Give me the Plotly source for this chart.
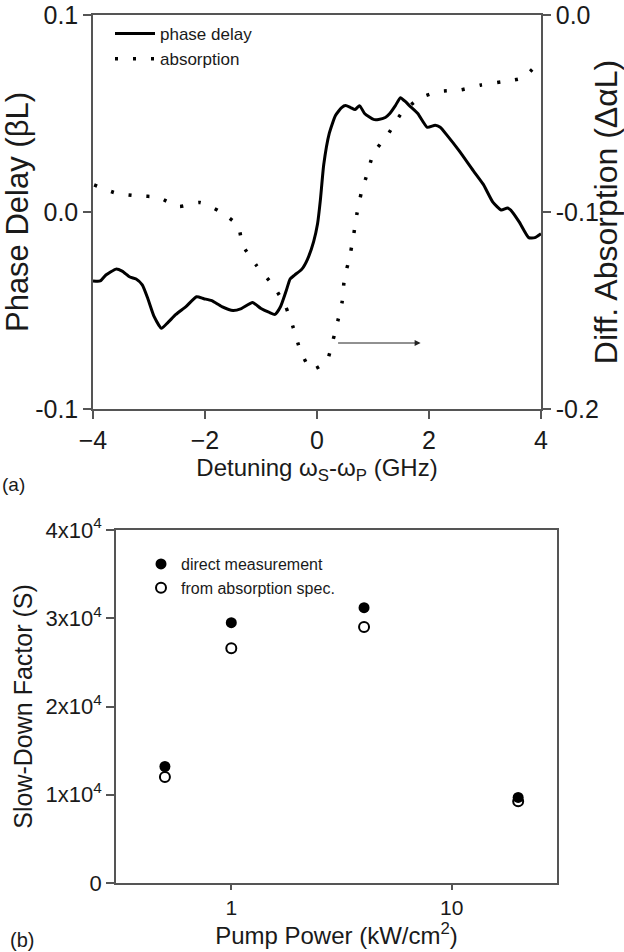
import plotly.graph_objects as go
import numpy as np

# ---------------- data: panel (a) ----------------
detuning_pd = [-4.0, -3.87, -3.77, -3.59, -3.48, -3.34, -3.23, -3.12, -3.02, -2.91, -2.78, -2.66,
               -2.52, -2.34, -2.15, -2.02, -1.88, -1.70, -1.50, -1.35, -1.15, -1.00, -0.85, -0.75,
               -0.65, -0.55, -0.48, -0.40, -0.27, -0.17, -0.06, 0.01, 0.06, 0.12, 0.22, 0.33,
               0.44, 0.51, 0.60, 0.68, 0.76, 0.85, 1.01, 1.10, 1.22, 1.30, 1.40, 1.49, 1.58,
               1.65, 1.80, 1.97, 2.11, 2.20, 2.32, 2.54, 2.79, 2.97, 3.14, 3.29, 3.40, 3.46,
               3.61, 3.78, 3.89, 4.0]
phase_delay = [-0.035, -0.035, -0.032, -0.029, -0.030, -0.033, -0.034, -0.037, -0.044, -0.053, -0.059, -0.056,
               -0.052, -0.048, -0.043, -0.044, -0.045, -0.048, -0.050, -0.049, -0.046, -0.049, -0.051, -0.052,
               -0.048, -0.040, -0.034, -0.032, -0.029, -0.024, -0.015, -0.006, 0.006, 0.024, 0.040, 0.049,
               0.053, 0.054, 0.053, 0.052, 0.054, 0.050, 0.047, 0.047, 0.048, 0.050, 0.054, 0.058, 0.056,
               0.054, 0.050, 0.043, 0.044, 0.043, 0.039, 0.031, 0.021, 0.014, 0.005, 0.001, 0.002, 0.001,
               -0.005, -0.013, -0.013, -0.011]

detuning_abs = [-3.98, -3.59, -3.20, -2.84, -2.47, -2.09, -1.74, -1.41, -1.33, -1.09, -0.77, -0.56,
                -0.42, -0.30, -0.10, 0.17, 0.28, 0.37, 0.45, 0.49, 0.58, 0.65, 0.71, 0.79, 0.90,
                1.01, 1.26, 1.51, 1.83, 2.18, 2.57, 2.93, 3.32, 3.68, 4.0]
absorption = [-0.0862, -0.0904, -0.0918, -0.0925, -0.0972, -0.0952, -0.0997, -0.107, -0.1166, -0.1268,
              -0.1378, -0.148, -0.159, -0.170, -0.180, -0.1758, -0.1657, -0.1555, -0.1454, -0.1336,
              -0.1234, -0.1124, -0.1014, -0.0904, -0.0803, -0.0702, -0.0609, -0.0499, -0.0423,
              -0.0389, -0.038, -0.0355, -0.0338, -0.0318, -0.0228]

arrow_start = (0.35, -0.0665)
arrow_end = (1.85, -0.0665)

# ---------------- data: panel (b) ----------------
pump_power = [0.5, 1.0, 4.0, 20.0]
direct_measurement = [13200, 29500, 31200, 9700]
from_absorption = [12000, 26600, 29000, 9250]

y_ticks_b = [0, 10000, 20000, 30000, 40000]
y_ticktext_b = ["0", "1x10<sup>4</sup>", "2x10<sup>4</sup>", "3x10<sup>4</sup>", "4x10<sup>4</sup>"]

W, H = 624, 952
FONT = "Liberation Sans, Arial, sans-serif"
AX = "#555555"
TXT = "#1a1a1a"

fig = go.Figure()

fig.add_trace(go.Scatter(x=detuning_pd, y=phase_delay, mode="lines", name="phase delay",
                         line=dict(color="black", width=3, shape="spline", smoothing=0.5),
                         xaxis="x", yaxis="y", legend="legend"))
fig.add_trace(go.Scatter(x=detuning_abs, y=absorption, mode="lines", name="absorption",
                         line=dict(color="black", width=3.5, dash="3px,15px", shape="spline", smoothing=0.6),
                         xaxis="x", yaxis="y2", legend="legend"))

fig.add_trace(go.Scatter(x=pump_power, y=direct_measurement, mode="markers", name="direct measurement",
                         marker=dict(symbol="circle", size=11, color="black", line=dict(width=0)),
                         xaxis="x3", yaxis="y3", legend="legend2"))
fig.add_trace(go.Scatter(x=pump_power, y=from_absorption, mode="markers", name="from absorption spec.",
                         marker=dict(symbol="circle-open", size=10, color="black", line=dict(width=2)),
                         xaxis="x3", yaxis="y3", legend="legend2"))


def axis_common(tick_size, ticklen=8):
    return dict(showgrid=False, zeroline=False, showline=True, linecolor=AX, linewidth=1.5,
                ticks="outside", ticklen=ticklen, tickcolor=AX, tickwidth=1.5, automargin=False,
                tickfont=dict(family=FONT, size=tick_size, color=TXT))


xa_dom = [93 / W, 541 / W]
ya_dom = [(H - 409) / H, (H - 15) / H]
xb_dom = [116 / W, 557 / W]
yb_dom = [(H - 883) / H, (H - 530) / H]

fig.update_layout(
    width=W, height=H, margin=dict(l=0, r=0, t=0, b=0, autoexpand=False),
    paper_bgcolor="white", plot_bgcolor="white",
    font=dict(family=FONT, color=TXT),
    xaxis=dict(**axis_common(25), domain=xa_dom, anchor="y", range=[-4, 4],
               tickvals=[-4, -2, 0, 2, 4], mirror=True,
               title=dict(text="Detuning ω<sub>S</sub>-ω<sub>P</sub> (GHz)",
                          font=dict(family=FONT, size=24, color=TXT), standoff=4)),
    yaxis=dict(**axis_common(25), domain=ya_dom, anchor="x", range=[-0.1, 0.1],
               tickvals=[-0.1, 0.0, 0.1], ticktext=["-0.1", "0.0", "0.1"],
               title=dict(text="Phase Delay (βL)", font=dict(family=FONT, size=31, color=TXT), standoff=4)),
    yaxis2=dict(**axis_common(25), domain=ya_dom, anchor="x", overlaying="y", side="right", range=[-0.2, 0.0],
                tickvals=[-0.2, -0.1, 0.0], ticktext=["-0.2", "-0.1", "0.0"],
                title=dict(text="Diff. Absorption (ΔαL)", font=dict(family=FONT, size=32, color=TXT), standoff=2)),
    xaxis3=dict(**axis_common(21, 5), domain=xb_dom, anchor="y3", type="log",
                range=[np.log10(0.3), np.log10(30)],
                tickvals=[1, 10], ticktext=["1", "10"], mirror=True,
                title=dict(text="Pump Power (kW/cm<sup>2</sup>)", font=dict(family=FONT, size=24, color=TXT), standoff=0)),
    yaxis3=dict(**axis_common(22), domain=yb_dom, anchor="x3", range=[0, 40000], mirror=True,
                tickvals=y_ticks_b, ticktext=y_ticktext_b,
                title=dict(text="Slow-Down Factor (S)", font=dict(family=FONT, size=25, color=TXT), standoff=6)),
    legend=dict(x=110 / W, y=1 - 16 / H, xanchor="left", yanchor="top", bgcolor="rgba(0,0,0,0)",
                font=dict(family=FONT, size=17, color=TXT), tracegroupgap=0, itemwidth=40),
    legend2=dict(x=141 / W, y=1 - 547 / H, xanchor="left", yanchor="top", bgcolor="rgba(0,0,0,0)",
                 font=dict(family=FONT, size=16, color=TXT), tracegroupgap=0, itemwidth=30),
    showlegend=True,
)

fig.add_annotation(x=arrow_end[0], y=arrow_end[1], ax=arrow_start[0], ay=arrow_start[1],
                   xref="x", yref="y", axref="x", ayref="y", text="", showarrow=True,
                   arrowhead=2, arrowsize=1.2, arrowwidth=1, arrowcolor="#222")

fig.add_annotation(x=0 / W, y=1 - 484 / H, xref="paper", yref="paper", text="(a)", showarrow=False,
                   xanchor="left", yanchor="middle", font=dict(family=FONT, size=19, color=TXT))
fig.add_annotation(x=8 / W, y=1 - 940 / H, xref="paper", yref="paper", text="(b)", showarrow=False,
                   xanchor="left", yanchor="middle", font=dict(family=FONT, size=20, color=TXT))

fig.write_html("out.html")
